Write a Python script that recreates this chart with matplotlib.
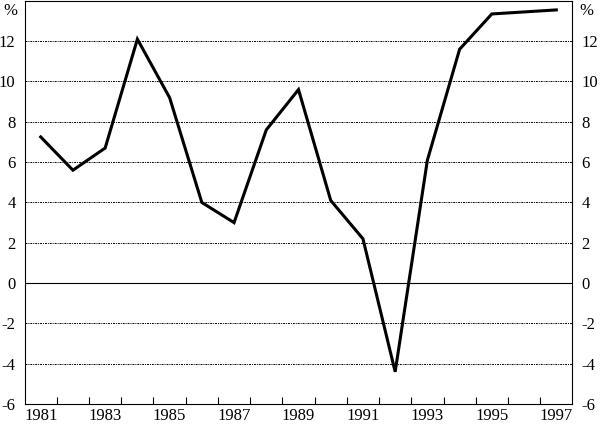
import matplotlib.pyplot as plt

plt.rcParams['font.family'] = ['Liberation Serif', 'DejaVu Serif']

years = [1981, 1982, 1983, 1984, 1985, 1986, 1987, 1988, 1989,
         1990, 1991, 1992, 1993, 1994, 1995, 1996, 1997]
growth = [7.25, 5.6, 6.7, 12.1, 9.2, 4.0, 3.0, 7.6, 9.6,
          4.1, 2.2, -4.4, 6.1, 11.6, 13.35, 13.45, 13.55]
yticks = [-6, -4, -2, 0, 2, 4, 6, 8, 10, 12]
xlabels = [1981, 1983, 1985, 1987, 1989, 1991, 1993, 1995, 1997]

fig = plt.figure(figsize=(6, 4.24), dpi=100)
ax = fig.add_axes([0.041, 0.047, 0.913, 0.951])

# grid lines
for v in yticks[1:]:
    if v == 0:
        ax.axhline(0, color='black', lw=0.8, zorder=1)
    else:
        ax.axhline(v, color='black', lw=0.7, ls=(0, (2, 1, 1, 1)), zorder=1)

ax.plot([y + 0.5 for y in years], growth, color='black', lw=2.2,
        solid_joinstyle='miter', zorder=3)

ax.set_xlim(1981, 1998)
ax.set_ylim(-6, 14)

ax.set_xticks(range(1982, 1998))
ax.set_xticklabels([])
ax.set_xticks([y + 0.5 for y in xlabels], minor=True)
ax.set_xticklabels([str(y) for y in xlabels], minor=True, fontsize=12)
ax.tick_params(axis='x', which='major', direction='in', length=5, width=0.8)
ax.tick_params(axis='x', which='minor', length=0, pad=2.5)

ax.set_yticks(yticks)
ax.set_yticklabels([str(v) for v in yticks], fontsize=12)
ax.tick_params(axis='y', length=0, pad=6.5, labelleft=True, labelright=True)

for s in ax.spines.values():
    s.set_linewidth(0.8)

ax.text(-0.013, 0.995, '%', transform=ax.transAxes, ha='right', va='top', fontsize=12)
ax.text(1.013, 0.995, '%', transform=ax.transAxes, ha='left', va='top', fontsize=12)

fig.savefig('out.png', dpi=100)
